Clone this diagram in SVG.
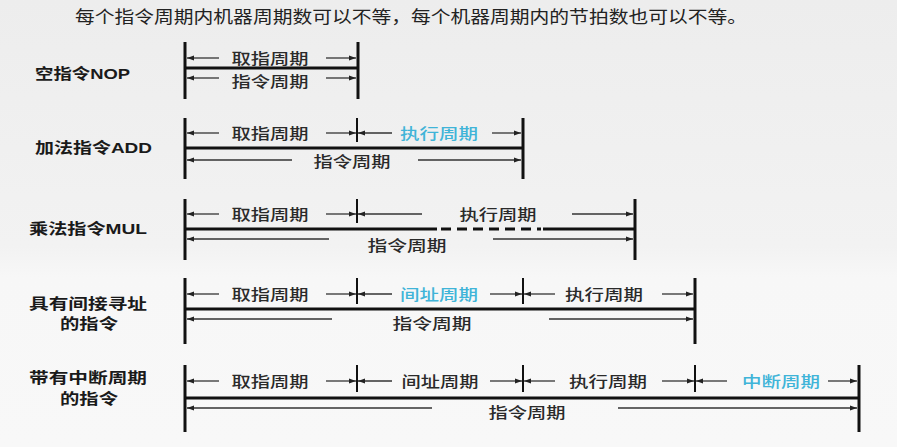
<svg xmlns="http://www.w3.org/2000/svg" width="897" height="447" viewBox="0 0 897 447">
<defs>
<marker id="ah" markerUnits="userSpaceOnUse" markerWidth="7" markerHeight="6" refX="7" refY="3" orient="auto">
<path d="M0,0.5 L7,3 L0,5.5 z" fill="#222"/>
</marker>
<linearGradient id="bg" x1="0" y1="0" x2="0" y2="1">
<stop offset="0" stop-color="#ededed"/>
<stop offset="0.55" stop-color="#f2f2f2"/>
<stop offset="0.62" stop-color="#f7f7f7"/>
<stop offset="1" stop-color="#f8f8f8"/>
</linearGradient>
<style>
.hdr{font-family:"Noto Sans CJK SC","Liberation Sans",sans-serif;font-size:17px;fill:#222}
.lbl{font-family:"Liberation Sans","Noto Sans CJK SC",sans-serif;font-size:15px;font-weight:bold;fill:#1a1a1a}
.t{font-family:"Noto Sans CJK SC","Liberation Sans",sans-serif;font-size:15px;font-weight:500;fill:#2a2a2a;text-anchor:middle}
.c{fill:#40b4d8}
.bar{stroke:#111;stroke-width:3;fill:none}
.tick{stroke:#111;stroke-width:2;fill:none}
.thick{stroke:#111;stroke-width:3;fill:none}
.dash{stroke:#111;stroke-width:3;fill:none;stroke-dasharray:10 6}
.ar{stroke:#333;stroke-width:1.3;fill:none;marker-end:url(#ah)}
</style>
</defs>
<rect x="0" y="0" width="897" height="447" fill="url(#bg)"/>
<text class="hdr" x="75" y="23" textLength="672" lengthAdjust="spacingAndGlyphs">每个指令周期内机器周期数可以不等，每个机器周期内的节拍数也可以不等。</text>

<g id="nop">
<text class="lbl" x="35" y="79" textLength="95" lengthAdjust="spacingAndGlyphs">空指令NOP</text>
<line class="bar" x1="185" y1="42" x2="185" y2="99"/>
<line class="bar" x1="358" y1="42" x2="358" y2="99"/>
<line class="thick" x1="185" y1="68" x2="358" y2="68"/>
<text class="t" x="270" y="63.5" textLength="77" lengthAdjust="spacingAndGlyphs">取指周期</text>
<text class="t" x="270" y="87" textLength="77" lengthAdjust="spacingAndGlyphs">指令周期</text>
</g>

<g id="add">
<text class="lbl" x="35" y="153" textLength="117" lengthAdjust="spacingAndGlyphs">加法指令ADD</text>
<line class="bar" x1="185" y1="118" x2="185" y2="179"/>
<line class="tick" x1="357" y1="118" x2="357" y2="142"/>
<line class="bar" x1="523" y1="118" x2="523" y2="179"/>
<line class="thick" x1="185" y1="148" x2="523" y2="148"/>
<text class="t" x="270" y="138.5" textLength="77" lengthAdjust="spacingAndGlyphs">取指周期</text>
<text class="t c" x="439" y="138.5" textLength="78" lengthAdjust="spacingAndGlyphs">执行周期</text>
<text class="t" x="352" y="166.5" textLength="77" lengthAdjust="spacingAndGlyphs">指令周期</text>
</g>

<g id="mul">
<text class="lbl" x="29" y="234" textLength="118" lengthAdjust="spacingAndGlyphs">乘法指令MUL</text>
<line class="bar" x1="185" y1="199" x2="185" y2="260"/>
<line class="tick" x1="357" y1="199" x2="357" y2="223"/>
<line class="bar" x1="635" y1="199" x2="635" y2="260"/>
<line class="thick" x1="185" y1="229" x2="437" y2="229"/>
<line class="dash" x1="441" y1="229" x2="541" y2="229"/>
<line class="thick" x1="543" y1="229" x2="635" y2="229"/>
<text class="t" x="270" y="219.5" textLength="77" lengthAdjust="spacingAndGlyphs">取指周期</text>
<text class="t" x="498" y="219.5" textLength="77" lengthAdjust="spacingAndGlyphs">执行周期</text>
<text class="t" x="407" y="250.5" textLength="79" lengthAdjust="spacingAndGlyphs">指令周期</text>
</g>

<g id="indirect">
<text class="lbl" x="29" y="308.5" textLength="118" lengthAdjust="spacingAndGlyphs">具有间接寻址</text>
<text class="lbl" x="60" y="328.5" textLength="58" lengthAdjust="spacingAndGlyphs">的指令</text>
<line class="bar" x1="185" y1="278" x2="185" y2="344"/>
<line class="tick" x1="357" y1="278" x2="357" y2="304"/>
<line class="tick" x1="523" y1="278" x2="523" y2="304"/>
<line class="bar" x1="695" y1="278" x2="695" y2="344"/>
<line class="thick" x1="185" y1="309" x2="695" y2="309"/>
<text class="t" x="270" y="299.5" textLength="77" lengthAdjust="spacingAndGlyphs">取指周期</text>
<text class="t c" x="439" y="299.5" textLength="78" lengthAdjust="spacingAndGlyphs">间址周期</text>
<text class="t" x="604" y="299.5" textLength="78" lengthAdjust="spacingAndGlyphs">执行周期</text>
<text class="t" x="432" y="329" textLength="79" lengthAdjust="spacingAndGlyphs">指令周期</text>
</g>

<g id="interrupt">
<text class="lbl" x="29" y="382.5" textLength="118" lengthAdjust="spacingAndGlyphs">带有中断周期</text>
<text class="lbl" x="60" y="403.5" textLength="58" lengthAdjust="spacingAndGlyphs">的指令</text>
<line class="bar" x1="185" y1="365" x2="185" y2="432"/>
<line class="tick" x1="357" y1="365" x2="357" y2="392"/>
<line class="tick" x1="523" y1="365" x2="523" y2="392"/>
<line class="tick" x1="695" y1="365" x2="695" y2="392"/>
<line class="bar" x1="859" y1="365" x2="859" y2="432"/>
<line class="thick" x1="185" y1="398" x2="859" y2="398"/>
<text class="t" x="270" y="386.5" textLength="77" lengthAdjust="spacingAndGlyphs">取指周期</text>
<text class="t" x="440" y="386.5" textLength="77" lengthAdjust="spacingAndGlyphs">间址周期</text>
<text class="t" x="608" y="386.5" textLength="78" lengthAdjust="spacingAndGlyphs">执行周期</text>
<text class="t c" x="781" y="386.5" textLength="78" lengthAdjust="spacingAndGlyphs">中断周期</text>
<text class="t" x="527" y="418" textLength="77" lengthAdjust="spacingAndGlyphs">指令周期</text>
</g>

<g id="connectors">
<line class="ar" x1="219" y1="58" x2="187" y2="58"/>
<line class="ar" x1="326" y1="58" x2="356" y2="58"/>
<line class="ar" x1="219" y1="78" x2="187" y2="78"/>
<line class="ar" x1="326" y1="78" x2="356" y2="78"/>
<line class="ar" x1="219" y1="133" x2="187" y2="133"/>
<line class="ar" x1="326" y1="133" x2="356" y2="133"/>
<line class="ar" x1="392" y1="133" x2="358" y2="133"/>
<line class="ar" x1="492" y1="133" x2="521" y2="133"/>
<line class="ar" x1="292" y1="160" x2="187" y2="160"/>
<line class="ar" x1="418" y1="160" x2="521" y2="160"/>
<line class="ar" x1="219" y1="214" x2="187" y2="214"/>
<line class="ar" x1="326" y1="214" x2="356" y2="214"/>
<line class="ar" x1="422" y1="214" x2="358" y2="214"/>
<line class="ar" x1="572" y1="214" x2="633" y2="214"/>
<line class="ar" x1="329" y1="239" x2="187" y2="239"/>
<line class="ar" x1="493" y1="239" x2="633" y2="239"/>
<line class="ar" x1="219" y1="294" x2="187" y2="294"/>
<line class="ar" x1="326" y1="294" x2="356" y2="294"/>
<line class="ar" x1="392" y1="294" x2="358" y2="294"/>
<line class="ar" x1="490" y1="294" x2="522" y2="294"/>
<line class="ar" x1="555" y1="294" x2="524" y2="294"/>
<line class="ar" x1="662" y1="294" x2="693" y2="294"/>
<line class="ar" x1="332" y1="319" x2="187" y2="319"/>
<line class="ar" x1="549" y1="319" x2="693" y2="319"/>
<line class="ar" x1="219" y1="381" x2="187" y2="381"/>
<line class="ar" x1="326" y1="381" x2="356" y2="381"/>
<line class="ar" x1="392" y1="381" x2="358" y2="381"/>
<line class="ar" x1="490" y1="381" x2="522" y2="381"/>
<line class="ar" x1="555" y1="381" x2="524" y2="381"/>
<line class="ar" x1="662" y1="381" x2="694" y2="381"/>
<line class="ar" x1="727" y1="381" x2="696" y2="381"/>
<line class="ar" x1="828" y1="381" x2="857" y2="381"/>
<line class="ar" x1="432" y1="408" x2="187" y2="408"/>
<line class="ar" x1="618" y1="408" x2="857" y2="408"/>
</g>
</svg>
